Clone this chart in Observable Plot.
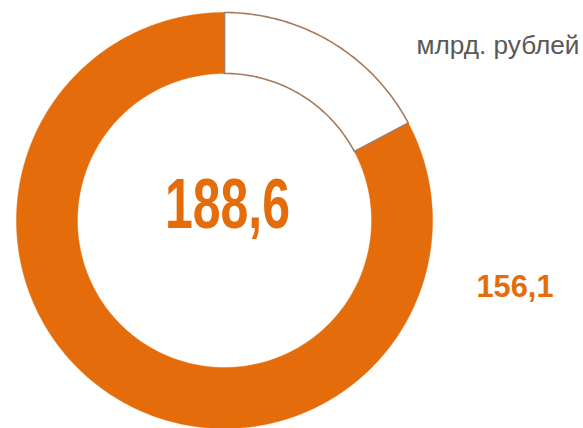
<!DOCTYPE html>
<html>
<head>
<meta charset="utf-8">
<script src="https://cdn.jsdelivr.net/npm/d3@7"></script>
<script src="https://cdn.jsdelivr.net/npm/@observablehq/plot@0.6"></script>
<style>
  html, body { margin: 0; padding: 0; background: #fff; }
  #chart { width: 583px; height: 428px; overflow: hidden; }
</style>
</head>
<body>
<div id="chart"></div>
<script>
// ---- data ----
const categories = ["прочее", "основная часть"];
const values = [32.5, 156.1];
const total = 188.6;
const unitLabel = "млрд. рублей";
const sliceColors = ["#ffffff", "#E46C0A"];
const sliceStrokes = ["#A67B5B", "none"];

// ---- build arc polygons from the data ----
const ru = d3.formatLocale({decimal: ",", thousands: " ", grouping: [3], currency: ["", " ₽"]});
const fmt = ru.format(".1f");
const innerRatio = 0.707;
const pie = d3.pie().sort(null).value(d => d.value).startAngle(0).endAngle(2 * Math.PI);
const arcs = pie(categories.map((c, i) => ({name: c, value: values[i], i})));
const points = [];
for (const a of arcs) {
  const n = Math.max(8, Math.ceil((a.endAngle - a.startAngle) / (Math.PI / 180)));
  const ring = [];
  for (let k = 0; k <= n; k++) {
    const t = a.startAngle + (a.endAngle - a.startAngle) * k / n;
    ring.push({x: Math.sin(t), y: Math.cos(t)});
  }
  for (let k = n; k >= 0; k--) {
    const t = a.startAngle + (a.endAngle - a.startAngle) * k / n;
    ring.push({x: innerRatio * Math.sin(t), y: innerRatio * Math.cos(t)});
  }
  ring.push(ring[0]);
  for (const p of ring) points.push({...p, name: a.data.name, i: a.data.i});
}

const orange = "#E46C0A";
const chart = Plot.plot({
  width: 583,
  height: 428,
  margin: 0,
  x: {domain: [-1, 1], range: [16, 432], axis: null},
  y: {domain: [-1, 1], range: [428, 12], axis: null},
  marks: [
    Plot.line(points.filter(p => p.i === 1), {x: "x", y: "y", z: "name", fill: sliceColors[1], stroke: sliceColors[1], strokeWidth: 0.5}),
    Plot.line(points.filter(p => p.i === 0), {x: "x", y: "y", z: "name", fill: sliceColors[0], stroke: sliceStrokes[0], strokeWidth: 1.6}),
    Plot.text([{x: 0, y: 0, v: total}], {
      x: "x", y: "y", text: d => fmt(d.v), dx: 3, dy: -15,
      fill: orange, fontSize: 70, fontWeight: "bold",
      fontFamily: "'Liberation Sans Narrow', 'Arial Narrow', 'Liberation Sans', Arial, sans-serif",
      className: "lbl-total"
    }),
    Plot.text([values[1]], {
      frameAnchor: "right", text: d => fmt(d), textAnchor: "end", dx: -30, dy: 72,
      fill: orange, fontSize: 32, fontWeight: "bold",
      fontFamily: "'Liberation Sans Narrow', 'Arial Narrow', 'Liberation Sans', Arial, sans-serif",
      className: "lbl-part"
    }),
    Plot.text([unitLabel], {
      frameAnchor: "top-right", text: d => d, textAnchor: "end", lineAnchor: "middle", dx: -4, dy: 45,
      fill: "#595959", fontSize: 26,
      fontFamily: "'Liberation Sans Narrow', 'Arial Narrow', 'Liberation Sans', Arial, sans-serif",
      className: "lbl-unit"
    })
  ]
});
document.getElementById("chart").appendChild(chart);

// condense the labels to match the narrow typography
const fit = (cls, len) => {
  chart.querySelectorAll("g." + cls + " text, ." + cls + " text").forEach(t => {
    t.setAttribute("textLength", len);
    t.setAttribute("lengthAdjust", "spacingAndGlyphs");
  });
};
fit("lbl-total", 125);
fit("lbl-part", 77);
fit("lbl-unit", 163);
</script>
</body>
</html>
